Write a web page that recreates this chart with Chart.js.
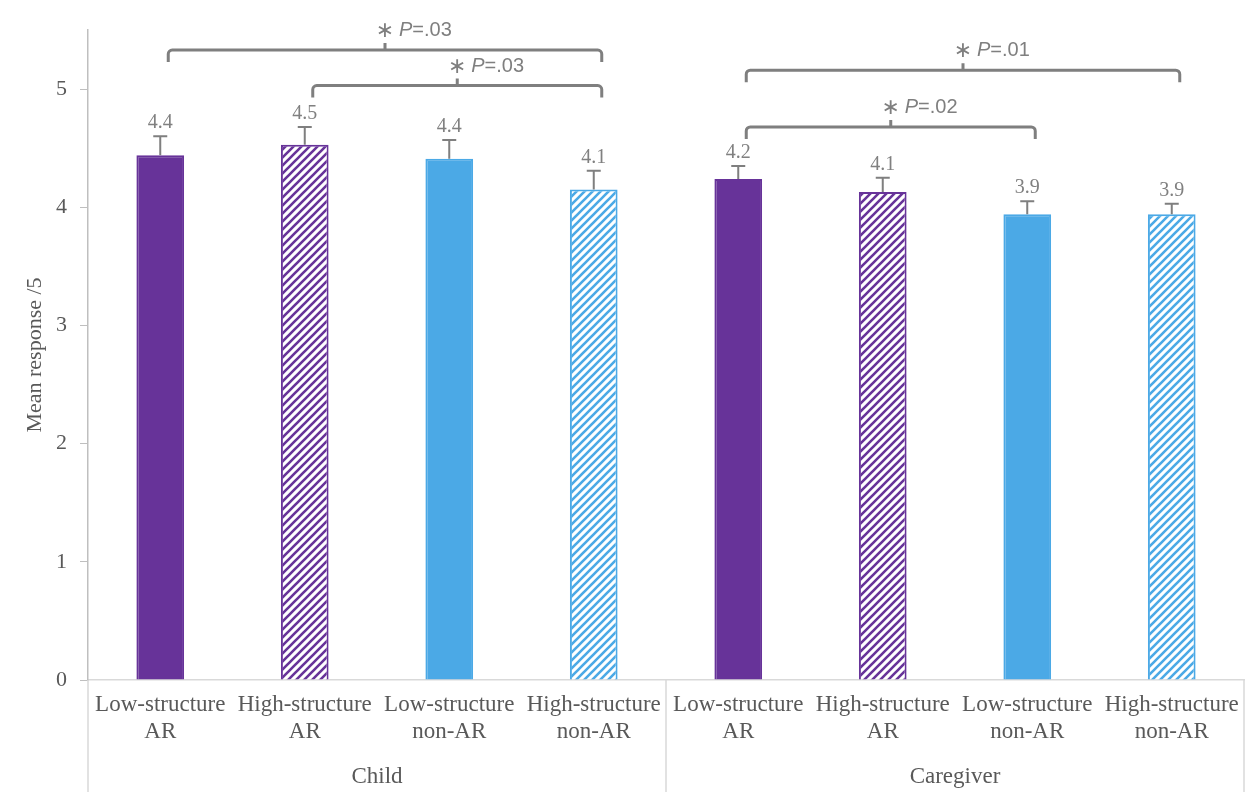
<!DOCTYPE html>
<html>
<head>
<meta charset="utf-8">
<script src="https://cdn.jsdelivr.net/npm/chart.js@4"></script>
<style>
    html, body { margin: 0; padding: 0; background: #fff; }
</style>
</head>
<body>
<canvas id="myChart" width="1256" height="810"></canvas>
<script>
// Data.
const conditions = [
    ['Low-structure', 'AR'], ['High-structure', 'AR'], ['Low-structure', 'non-AR'], ['High-structure', 'non-AR'],
    ['Low-structure', 'AR'], ['High-structure', 'AR'], ['Low-structure', 'non-AR'], ['High-structure', 'non-AR'],
];
const groupNames = ['Child', 'Caregiver'];
const groupSizes = [4, 4];
const means = [4.44, 4.53, 4.41, 4.15, 4.24, 4.13, 3.94, 3.94];
const errors = [0.16, 0.15, 0.16, 0.16, 0.11, 0.12, 0.11, 0.09];
const valueLabels = ['4.4', '4.5', '4.4', '4.1', '4.2', '4.1', '3.9', '3.9'];
const comparisonPairs = [[0, 3], [1, 3], [4, 7], [4, 6]];
const comparisonLevels = [5.33, 5.03, 5.16, 4.68];
const comparisonText = ['P=.03', 'P=.03', 'P=.01', 'P=.02'];
const yTicks = [0, 1, 2, 3, 4, 5];

const purple = '#673399';
const blue = '#4BA9E6';
const grey = '#7f7f7f';
const serif = "'Liberation Serif', 'Times New Roman', serif";
const sans = "'Liberation Sans', Arial, sans-serif";

// Diagonal hatch fill for the high-structure bars.
function makeHatch(color) {
    const c = document.createElement('canvas');
    c.width = 8;
    c.height = 8;
    const g = c.getContext('2d');
    g.fillStyle = '#fff';
    g.fillRect(0, 0, 8, 8);
    g.strokeStyle = color;
    g.lineWidth = 2.6;
    g.beginPath();
    g.moveTo(-2, 10); g.lineTo(10, -2);
    g.moveTo(-2, 2); g.lineTo(2, -2);
    g.moveTo(6, 10); g.lineTo(10, 6);
    g.stroke();
    return g.createPattern(c, 'repeat');
}

const fills = [purple, makeHatch(purple), blue, makeHatch(blue)];
const edges = [purple, purple, blue, blue];

// Error bars, value labels, significance brackets and the group row under the axis.
const extras = {
    id: 'extras',
    afterDatasetsDraw(chart) {
        const ctx = chart.ctx;
        const y = chart.scales.y;
        const bars = chart.getDatasetMeta(0).data;

        ctx.save();
        ctx.strokeStyle = grey;
        ctx.lineWidth = 2;
        ctx.fillStyle = '#808080';
        ctx.font = '20px ' + serif;
        ctx.textAlign = 'center';
        ctx.textBaseline = 'alphabetic';
        bars.forEach((bar, i) => {
            const top = y.getPixelForValue(means[i] + errors[i]);
            const base = y.getPixelForValue(means[i]);
            ctx.beginPath();
            ctx.moveTo(bar.x, base);
            ctx.lineTo(bar.x, top);
            ctx.moveTo(bar.x - 7, top);
            ctx.lineTo(bar.x + 7, top);
            ctx.stroke();
            ctx.fillText(valueLabels[i], bar.x, top - 8);
        });

        // Brackets.
        ctx.lineWidth = 3;
        ctx.lineJoin = 'round';
        comparisonPairs.forEach(([a, b], k) => {
            const x1 = bars[a].x + 8;
            const x2 = bars[b].x + 8;
            const yy = y.getPixelForValue(comparisonLevels[k]);
            const mid = (x1 + x2) / 2;
            ctx.beginPath();
            ctx.moveTo(x1, yy + 12);
            ctx.arcTo(x1, yy, x2, yy, 4);
            ctx.arcTo(x2, yy, x2, yy + 12, 4);
            ctx.lineTo(x2, yy + 12);
            ctx.moveTo(mid, yy);
            ctx.lineTo(mid, yy - 7);
            ctx.stroke();

            ctx.fillStyle = grey;
            ctx.textAlign = 'center';
            ctx.font = "22px 'DejaVu Sans', sans-serif";
            ctx.fillText('\u2217', mid, yy - 13);
            ctx.textAlign = 'left';
            ctx.font = 'italic 20px ' + sans;
            const px = mid + 14;
            ctx.fillText('P', px, yy - 14);
            const pw = ctx.measureText('P').width;
            ctx.font = '20px ' + sans;
            ctx.fillText(comparisonText[k].slice(1), px + pw, yy - 14);
        });
        ctx.restore();
    },
    afterDraw(chart) {
        const ctx = chart.ctx;
        const area = chart.chartArea;
        const step = (area.right - area.left) / conditions.length;

        ctx.save();
        ctx.strokeStyle = '#d9d9d9';
        ctx.lineWidth = 1.5;
        ctx.fillStyle = '#595959';
        ctx.font = '23px ' + serif;
        ctx.textAlign = 'center';
        let start = 0;
        const edgesX = [area.left];
        groupNames.forEach((name, g) => {
            const end = start + groupSizes[g];
            const left = area.left + start * step;
            const right = area.left + end * step;
            edgesX.push(right);
            ctx.fillText(name, (left + right) / 2, 783);
            start = end;
        });
        edgesX.forEach(ex => {
            ctx.beginPath();
            ctx.moveTo(ex, area.bottom);
            ctx.lineTo(ex, 792);
            ctx.stroke();
        });
        ctx.restore();
    }
};

const ctx = document.getElementById('myChart').getContext('2d');
const chart = new Chart(ctx, {
    type: 'bar',
    data: {
        labels: conditions,
        datasets: [{
            data: means,
            backgroundColor: means.map((v, i) => fills[i % 4]),
            borderColor: means.map((v, i) => edges[i % 4]),
            borderWidth: 2,
            categoryPercentage: 1,
            barPercentage: 0.33,
        }]
    },
    options: {
        responsive: false,
        animation: false,
        layout: { padding: { top: 30, right: 12, left: 0, bottom: 0 } },
        plugins: {
            legend: { display: false },
            tooltip: { enabled: false },
        },
        scales: {
            x: {
                grid: { display: false, drawTicks: false },
                border: { color: '#d9d9d9', width: 1.5 },
                ticks: {
                    color: '#595959',
                    font: { family: serif, size: 23, lineHeight: 1.15 },
                    padding: 12,
                    maxRotation: 0,
                    autoSkip: false,
                },
                afterFit(scale) { scale.height = 130; },
            },
            y: {
                min: 0,
                max: 5.5,
                afterBuildTicks(scale) {
                    scale.ticks = yTicks.map(v => ({ value: v }));
                },
                grid: { drawOnChartArea: false, tickLength: 8, color: '#bfbfbf' },
                border: { color: '#bfbfbf', width: 1.5 },
                ticks: {
                    color: '#595959',
                    font: { family: serif, size: 22 },
                    padding: 13,
                },
                title: {
                    display: true,
                    text: 'Mean response /5',
                    color: '#595959',
                    font: { family: serif, size: 22 },
                    padding: { top: 22, bottom: 8 },
                },
                afterFit(scale) { scale.width = 88; },
            }
        }
    },
    plugins: [extras]
});
</script>
</body>
</html>
